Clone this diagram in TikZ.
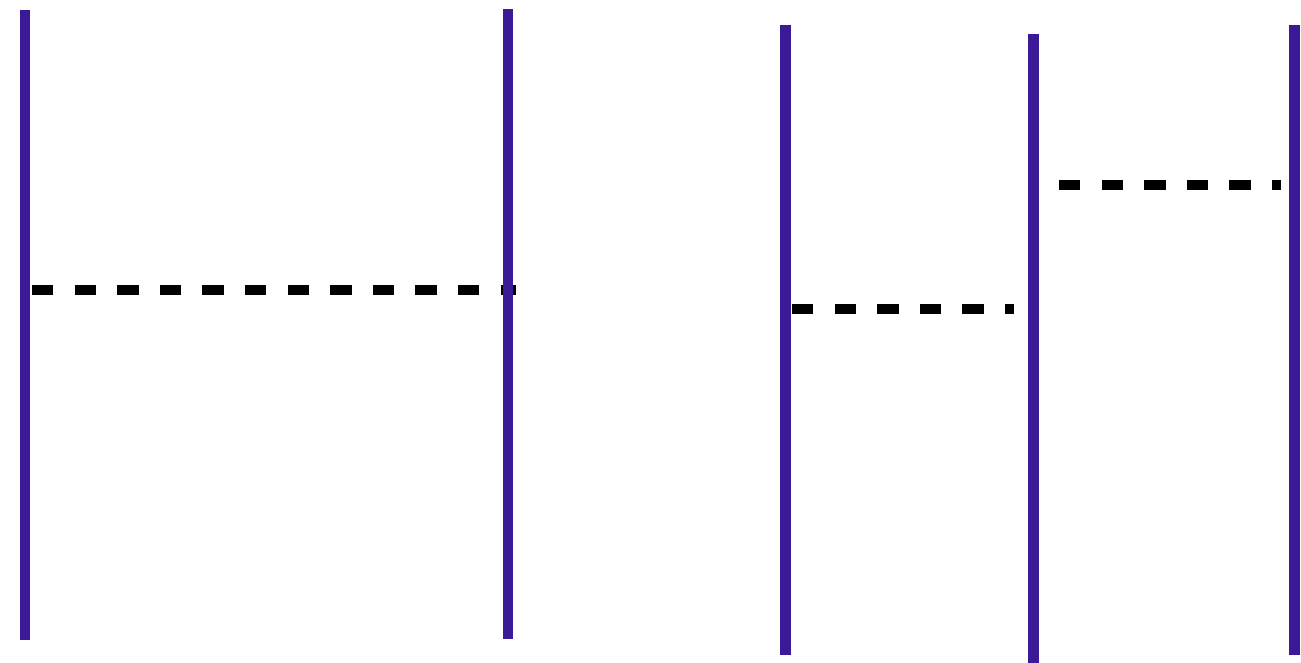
\documentclass[tikz,border=0pt]{standalone}
\definecolor{rail}{RGB}{58,26,150}
\tikzset{
  railline/.style={draw=rail, line width=10.5pt, line cap=butt},
  dashlink/.style={draw=black, line width=10pt, line cap=butt, dash pattern=on 21.3pt off 21.3pt},
}
\begin{document}
\begin{tikzpicture}[x=1pt,y=-1pt]
\useasboundingbox (0,0) rectangle (1301,663);
% rails
\coordinate (a1) at (25,10);   \coordinate (a2) at (25,640);
\coordinate (b1) at (508,9);   \coordinate (b2) at (508,639);
\coordinate (c1) at (785.5,25); \coordinate (c2) at (785.5,655);
\coordinate (d1) at (1033.5,34); \coordinate (d2) at (1033.5,664);
\coordinate (e1) at (1294.5,25); \coordinate (e2) at (1294.5,655);
% dashed links (drawn beneath the rails)
\coordinate (p1) at (32,290);  \coordinate (p2) at (516,290);
\coordinate (q1) at (792,308.5); \coordinate (q2) at (1014,308.5);
\coordinate (r1) at (1059,185.5); \coordinate (r2) at (1280.7,185.5);
\draw[dashlink] (p1) -- (p2);
\draw[dashlink] (q1) -- (q2);
\draw[dashlink] (r1) -- (r2);
\draw[railline] (a1) -- (a2);
\draw[railline] (b1) -- (b2);
\draw[railline] (c1) -- (c2);
\draw[railline] (d1) -- (d2);
\draw[railline] (e1) -- (e2);
\end{tikzpicture}
\end{document}
